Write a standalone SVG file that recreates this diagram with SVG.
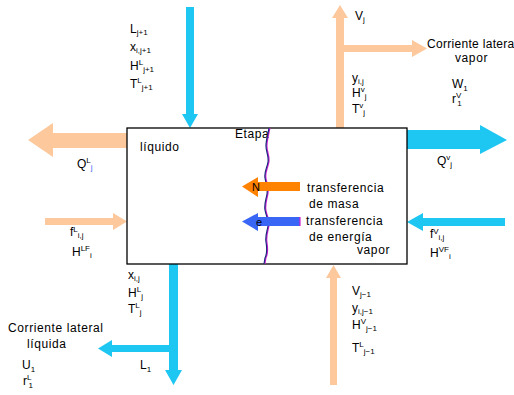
<svg xmlns="http://www.w3.org/2000/svg" width="514" height="395" viewBox="0 0 514 395">
<style>
text{font-family:"Liberation Sans",Arial,sans-serif;font-size:12px;fill:#000}
.s{font-size:8px}
.cy{fill:#1ec6f2}
.pe{fill:#fcc89c}
.ls{letter-spacing:0.6px}
</style>
<rect width="514" height="395" fill="#fff"/>
<g id="connectors">
  <polygon class="cy" points="186,7 194,7 194,114 198,114 190,128 182,114 186,114"/>
  <polygon class="pe" points="336,128 336,18 332,18 340,5 348,18 344,18 344,45 412,45 412,40 427,48.5 412,57 412,52 344,52 344,128"/>
  <polygon class="pe" points="127,133 53,133 53,123 28,140 53,157 53,148 127,148"/>
  <polygon class="cy" points="407,130 480,130 480,125 507,140 480,154 480,149 407,149"/>
  <polygon class="pe" points="45,218 113,218 113,213 127,221.5 113,230 113,225 45,225"/>
  <polygon class="cy" points="505,218 423,218 423,213 407,222 423,231 423,226 505,226"/>
  <polygon class="cy" points="169,264 178,264 178,370 182,370 173.5,385 165,370 169,370 169,352 112,352 112,357 98,348.5 112,340 112,345 169,345"/>
  <polygon class="pe" points="330,385 337,385 337,278 341,278 333.5,265 326,278 330,278"/>
</g>
<g id="stage">
  <rect x="127" y="128" width="280" height="136" fill="#fff" stroke="#000" stroke-width="1.3"/>
  <text x="140" y="151" class="ls">líquido</text>
  <text x="235" y="138" class="ls">Etapa</text>
  <path d="M269,128 C268,134 266,140 266,146 C266,152 269,156 268,162 C267,168 264,172 265,178 C266,184 268,188 267,194 C266,200 264,204 265,210 C266,216 269,220 268,226 C267,232 265,236 266,242 C267,248 267,254 265,258 L264,264" fill="none" stroke="#d020d0" stroke-width="1.4" transform="translate(0.8,0)"/>
  <path d="M269,128 C268,134 266,140 266,146 C266,152 269,156 268,162 C267,168 264,172 265,178 C266,184 268,188 267,194 C266,200 264,204 265,210 C266,216 269,220 268,226 C267,232 265,236 266,242 C267,248 267,254 265,258 L264,264" fill="none" stroke="#1a2a80" stroke-width="1.2"/>
</g>
<g id="mass-transfer">
  <polygon fill="#ff8200" points="300,182 258,182 258,177 242,186.5 258,197 258,191 300,191"/>
  <text x="252" y="191" style="font-size:11px">N</text>
  <text x="307" y="192" class="ls">transferencia</text>
  <text x="309" y="208" class="ls">de masa</text>
</g>
<g id="energy-transfer">
  <polygon fill="#3a66f6" points="300,217 258,217 258,213 242,221.5 258,231 258,226 300,226"/>
  <line x1="300" y1="217" x2="300" y2="226" stroke="#d020d0" stroke-width="1.2"/>
  <text x="256" y="226" style="font-size:11px">e</text>
  <text x="306" y="225" class="ls">transferencia</text>
  <text x="309" y="241" class="ls">de energía</text>
  <text x="357" y="254" class="ls">vapor</text>
</g>
<g id="label-top-left">
  <text x="130" y="33">L<tspan class="s" dy="2">j+1</tspan></text>
  <text x="130" y="51">x<tspan class="s" dy="2">i,j+1</tspan></text>
  <text x="130" y="70">H<tspan class="s" dy="-5">L</tspan><tspan class="s" dy="7">j+1</tspan></text>
  <text x="130" y="88">T<tspan class="s" dy="-5">L</tspan><tspan class="s" dy="7">j+1</tspan></text>
</g>
<g id="label-top-right">
  <text x="355" y="20">V<tspan class="s" dy="2">j</tspan></text>
  <text x="352" y="82">y<tspan class="s" dy="2">i,j</tspan></text>
  <text x="352" y="97">H<tspan class="s" dy="-5">v</tspan><tspan class="s" dy="7">j</tspan></text>
  <text x="352" y="113">T<tspan class="s" dy="-5">v</tspan><tspan class="s" dy="7">j</tspan></text>
  <text x="427" y="48" style="letter-spacing:0.3px">Corriente latera</text>
  <text x="455" y="62" class="ls">vapor</text>
  <text x="452" y="88">W<tspan class="s" dy="3">1</tspan></text>
  <text x="452" y="103">r<tspan class="s" dy="-5">V</tspan><tspan class="s" dx="-4" dy="8">1</tspan></text>
</g>
<g id="label-QL"><text x="77" y="168">Q<tspan class="s" dy="-5">L</tspan><tspan class="s" dy="7" fill="#3a66f6">j</tspan></text></g>
<g id="label-QV"><text x="437" y="165">Q<tspan class="s" dy="-5">v</tspan><tspan class="s" dy="7">j</tspan></text></g>
<g id="label-fL">
  <text x="70" y="236">f<tspan class="s" dy="-4">L</tspan><tspan class="s" dy="6">i,j</tspan></text>
  <text x="72" y="256">H<tspan class="s" dy="-5">LF</tspan><tspan class="s" dy="7">i</tspan></text>
</g>
<g id="label-fV">
  <text x="430" y="238">f<tspan class="s" dy="-4">V</tspan><tspan class="s" dy="6">i,j</tspan></text>
  <text x="430" y="257">H<tspan class="s" dy="-5">VF</tspan><tspan class="s" dy="7">i</tspan></text>
</g>
<g id="label-bottom-left">
  <text x="128" y="279">x<tspan class="s" dy="2">i,j</tspan></text>
  <text x="128" y="297">H<tspan class="s" dy="-5">L</tspan><tspan class="s" dy="7">j</tspan></text>
  <text x="128" y="313">T<tspan class="s" dy="-5">L</tspan><tspan class="s" dy="7">j</tspan></text>
  <text x="8" y="332" class="ls">Corriente lateral</text>
  <text x="27" y="348" class="ls">líquida</text>
  <text x="22" y="369">U<tspan class="s" dy="3">1</tspan></text>
  <text x="23" y="385">r<tspan class="s" dy="-5">L</tspan><tspan class="s" dx="-3" dy="8">1</tspan></text>
  <text x="140" y="369">L<tspan class="s" dy="3">1</tspan></text>
</g>
<g id="label-bottom-right">
  <text x="352" y="295">V<tspan class="s" dy="2">j−1</tspan></text>
  <text x="352" y="312">y<tspan class="s" dy="2">i,j−1</tspan></text>
  <text x="352" y="329">H<tspan class="s" dy="-5">V</tspan><tspan class="s" dy="7">j−1</tspan></text>
  <text x="352" y="352">T<tspan class="s" dy="-5">L</tspan><tspan class="s" dy="7">j−1</tspan></text>
</g>
</svg>
